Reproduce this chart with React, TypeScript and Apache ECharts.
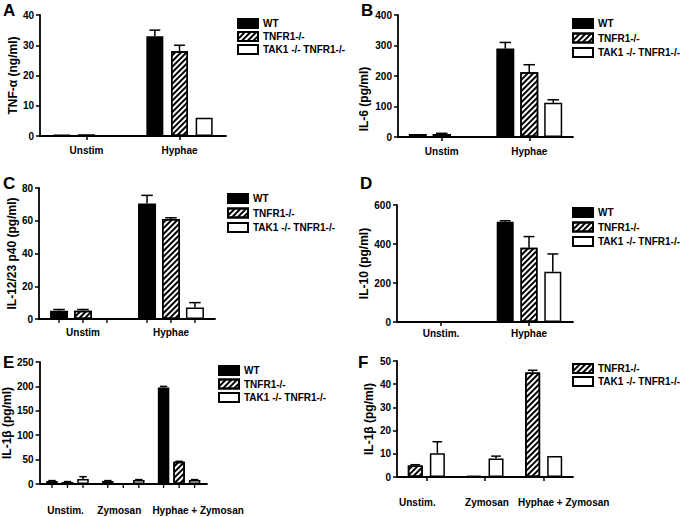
import React, { useEffect, useRef } from "react";
import * as echarts from "echarts";

// ---------- names ----------
const NAMES3 = ["WT", "TNFR1-/-", "TAK1 -/- TNFR1-/-"];
const NAMES2 = ["TNFR1-/-", "TAK1 -/- TNFR1-/-"];

// ---------- Panel A: TNF-α ----------
const catsA = ["Unstim", "Hyphae"];
const wtA = [0.5, 33];
const wtAErr = [0, 2];
const tnfA = [0.5, 28];
const tnfAErr = [0, 2];
const takA = [null, 6];
const takAErr = [0, 0];
const ticksA = [0, 10, 20, 30, 40];

// ---------- Panel B: IL-6 ----------
const catsB = ["Unstim", "Hyphae"];
const wtB = [10, 290];
const wtBErr = [0, 20];
const tnfB = [10, 212];
const tnfBErr = [2, 25];
const takB = [null, 112];
const takBErr = [0, 10];
const ticksB = [0, 100, 200, 300, 400];

// ---------- Panel C: IL-12/23 p40 ----------
const catsC = ["Unstim", "Hyphae"];
const wtC = [5, 70.5];
const wtCErr = [0.8, 5];
const tnfC = [5, 61];
const tnfCErr = [0.8, 0.8];
const takC = [null, 7];
const takCErr = [0, 3];
const ticksC = [0, 20, 40, 60, 80];

// ---------- Panel D: IL-10 ----------
const catsD = ["Unstim.", "Hyphae"];
const wtD = [0, 514];
const wtDErr = [0, 5];
const tnfD = [0, 381];
const tnfDErr = [0, 57];
const takD = [0, 258];
const takDErr = [0, 91];
const ticksD = [0, 200, 400, 600];

// ---------- Panel E: IL-1β (three strains) ----------
const catsE = ["Unstim.", "Zymosan", "Hyphae + Zymosan"];
const wtE = [6, 6, 198];
const wtEErr = [1, 1, 2];
const tnfE = [4, 0.5, 45.5];
const tnfEErr = [1, 0, 1];
const takE = [10, 8, 8];
const takEErr = [5, 1, 1];
const ticksE = [0, 50, 100, 150, 200, 250];

// ---------- Panel F: IL-1β (two strains) ----------
const catsF = ["Unstim.", "Zymosan", "Hyphae + Zymosan"];
const tnfF = [5, 0.5, 45];
const tnfFErr = [0.3, 0, 1];
const takF = [10.2, 8, 9];
const takFErr = [5, 1, 0];
const ticksF = [0, 10, 20, 30, 40, 50];

// ---------- styles ----------
const FONT = "Liberation Sans, Arial, Helvetica, sans-serif";
const hatch = {
  symbol: "rect",
  symbolSize: 1,
  color: "#000",
  backgroundColor: "#fff",
  dashArrayX: [1, 0],
  dashArrayY: [1.2, 1.6],
  rotation: -Math.PI / 4,
};
const styleFor: Record<string, any> = {
  WT: { color: "#000", borderColor: "#000", borderWidth: 1.5 },
  "TNFR1-/-": { color: "#fff", borderColor: "#000", borderWidth: 1.5, decal: hatch },
  "TAK1 -/- TNFR1-/-": { color: "#fff", borderColor: "#000", borderWidth: 1.5 },
};

type Panel = {
  letter: string;
  letterPos: [number, number];
  cats: string[];
  names: string[];
  values: (number | null)[][];
  errs: number[][];
  ticks: number[];
  yName: string;
  grid: { left: number; top: number; width: number; height: number };
  barWidth: number;
  gap: number; // fraction of bar width
  slotTicks: boolean;
  nameGap: number;
  namePad?: number[];
  labelMargin: number;
  labelShift?: number[];
  legend: { left: number; top: number; gap: number };
};

const panels: Panel[] = [
  {
    letter: "A", letterPos: [3, 2], cats: catsA, names: NAMES3,
    values: [wtA, tnfA, takA], errs: [wtAErr, tnfAErr, takAErr], ticks: ticksA,
    yName: "TNF-α (ng/ml)",
    grid: { left: 40, top: 15, width: 186, height: 121 },
    barWidth: 17, gap: 0.45, slotTicks: false, nameGap: 18, labelMargin: 9,
    legend: { left: 237, top: 18, gap: 2 },
  },
  {
    letter: "B", letterPos: [361, 2], cats: catsB, names: NAMES3,
    values: [wtB, tnfB, takB], errs: [wtBErr, tnfBErr, takBErr], ticks: ticksB,
    yName: "IL-6 (pg/ml)",
    grid: { left: 398, top: 15, width: 175, height: 122 },
    barWidth: 18, gap: 0.33, slotTicks: false, nameGap: 28, namePad: [0, 46, 0, 0], labelMargin: 9,
    legend: { left: 572, top: 18, gap: 3.5 },
  },
  {
    letter: "C", letterPos: [3, 175], cats: catsC, names: NAMES3,
    values: [wtC, tnfC, takC], errs: [wtCErr, tnfCErr, takCErr], ticks: ticksC,
    yName: "IL-12/23 p40 (pg/ml)",
    grid: { left: 39, top: 188, width: 176, height: 131 },
    barWidth: 18, gap: 0.33, slotTicks: true, nameGap: 21, labelMargin: 8,
    legend: { left: 227, top: 193, gap: 3.5 },
  },
  {
    letter: "D", letterPos: [360, 175], cats: catsD, names: NAMES3,
    values: [wtD, tnfD, takD], errs: [wtDErr, tnfDErr, takDErr], ticks: ticksD,
    yName: "IL-10 (pg/ml)",
    grid: { left: 397, top: 205, width: 176, height: 117 },
    barWidth: 17, gap: 0.4, slotTicks: false, nameGap: 25, labelMargin: 6,
    legend: { left: 572, top: 207, gap: 3.5 },
  },
  {
    letter: "E", letterPos: [3, 354], cats: catsE, names: NAMES3,
    values: [wtE, tnfE, takE], errs: [wtEErr, tnfEErr, takEErr], ticks: ticksE,
    yName: "IL-1β (pg/ml)",
    grid: { left: 39, top: 362, width: 168, height: 122 },
    barWidth: 11.5, gap: 0.35, slotTicks: true, nameGap: 22, labelMargin: 21,
    labelShift: [-4, -8, 38],
    legend: { left: 218, top: 365, gap: 2.5 },
  },
  {
    letter: "F", letterPos: [358, 354], cats: catsF, names: NAMES2,
    values: [tnfF, takF], errs: [tnfFErr, takFErr], ticks: ticksF,
    yName: "IL-1β (pg/ml)",
    grid: { left: 397, top: 361, width: 176, height: 116 },
    barWidth: 15, gap: 0.47, slotTicks: false, nameGap: 22, labelMargin: 20,
    labelShift: [-18, 4, 40],
    legend: { left: 572, top: 363, gap: 2 },
  },
];

function buildOption() {
  const grid: any[] = [];
  const xAxis: any[] = [];
  const yAxis: any[] = [];
  const series: any[] = [];
  const legend: any[] = [];
  const graphic: any[] = [];

  panels.forEach((p, pi) => {
    grid.push({ ...p.grid, containLabel: false });
    const rich: Record<string, any> = {};
    p.cats.forEach((_, ci) => {
      const s = p.labelShift ? p.labelShift[ci] : 0;
      rich["c" + ci] = {
        fontFamily: FONT, fontWeight: "bold", fontSize: 10, color: "#000",
        padding: s >= 0 ? [0, 0, 0, s] : [0, -s, 0, 0],
      };
    });
    xAxis.push({
      type: "category",
      gridIndex: pi,
      data: p.cats,
      axisLine: { lineStyle: { color: "#000", width: 1.8 } },
      axisTick: { show: !p.slotTicks, alignWithLabel: true, length: 4, lineStyle: { color: "#000", width: 1.5 } },
      axisLabel: {
        interval: 0,
        margin: p.labelMargin,
        formatter: (v: string, idx: number) => `{c${idx}|${v}}`,
        rich,
      },
      splitLine: { show: false },
    });
    const t = p.ticks;
    yAxis.push({
      type: "value",
      gridIndex: pi,
      min: t[0],
      max: t[t.length - 1],
      interval: t[1] - t[0],
      name: p.yName,
      nameLocation: "middle",
      nameRotate: 90,
      nameGap: p.nameGap,
      nameTextStyle: {
        fontFamily: FONT, fontWeight: "bold", fontSize: 12, color: "#000",
        padding: p.namePad || 0,
      },
      axisLine: { show: true, lineStyle: { color: "#000", width: 1.8 } },
      axisTick: { show: true, length: 4, lineStyle: { color: "#000", width: 1.5 } },
      axisLabel: { fontFamily: FONT, fontWeight: "bold", fontSize: 10, color: "#000", margin: 6 },
      splitLine: { show: false },
    });

    const n = p.names.length;
    p.names.forEach((name, k) => {
      series.push({
        type: "bar",
        name,
        xAxisIndex: pi,
        yAxisIndex: pi,
        barWidth: p.barWidth,
        barGap: Math.round(p.gap * 100) + "%",
        data: p.values[k],
        itemStyle: styleFor[name],
        z: 2,
      });
    });
    p.names.forEach((name, k) => {
      const offset = (k - (n - 1) / 2) * p.barWidth * (1 + p.gap);
      const data = p.cats.map((_, ci) => [ci, p.values[k][ci] ?? 0, p.errs[k][ci]]);
      series.push({
        type: "custom",
        name: "err-" + p.letter + "-" + k,
        xAxisIndex: pi,
        yAxisIndex: pi,
        z: 3,
        silent: true,
        clip: false,
        data,
        renderItem: (_params: any, api: any) => {
          const ci = api.value(0);
          const v = api.value(1);
          const e = api.value(2);
          const base = api.coord([ci, 0]);
          const x = base[0] + offset;
          const children: any[] = [];
          if (e > 0) {
            const top = api.coord([ci, v + e]);
            const bot = api.coord([ci, v]);
            const cap = p.barWidth * 0.32;
            const ls = { stroke: "#000", lineWidth: 1.5 };
            children.push({ type: "line", shape: { x1: x, y1: bot[1], x2: x, y2: top[1] }, style: ls });
            children.push({ type: "line", shape: { x1: x - cap, y1: top[1], x2: x + cap, y2: top[1] }, style: ls });
          }
          if (p.slotTicks) {
            children.push({
              type: "line",
              shape: { x1: x, y1: base[1], x2: x, y2: base[1] + 4 },
              style: { stroke: "#000", lineWidth: 1.3 },
            });
          }
          return { type: "group", children };
        },
      });
    });

    legend.push({
      data: p.names,
      orient: "vertical",
      left: p.legend.left,
      top: p.legend.top,
      itemWidth: 20,
      itemHeight: 9,
      itemGap: p.legend.gap,
      icon: "rect",
      selectedMode: false,
      padding: 0,
      textStyle: { fontFamily: FONT, fontWeight: "bold", fontSize: 10, color: "#000", padding: [0, 0, 0, 0] },
    });

    graphic.push({
      type: "text",
      left: p.letterPos[0],
      top: p.letterPos[1],
      style: { text: p.letter, fontFamily: FONT, fontWeight: "bold", fontSize: 17, fill: "#000" },
    });
  });

  return {
    animation: false,
    backgroundColor: "#fff",
    textStyle: { fontFamily: FONT },
    grid,
    xAxis,
    yAxis,
    series,
    legend,
    graphic,
  };
}

export default function App() {
  const ref = useRef<HTMLDivElement>(null);
  useEffect(() => {
    if (!ref.current) return;
    const chart = echarts.init(ref.current, undefined, { renderer: "svg" });
    chart.setOption(buildOption() as any);
    return () => chart.dispose();
  }, []);
  return (
    <div
      ref={ref}
      style={{ position: "fixed", left: 0, top: 0, width: 683, height: 517, background: "#fff" }}
    />
  );
}
